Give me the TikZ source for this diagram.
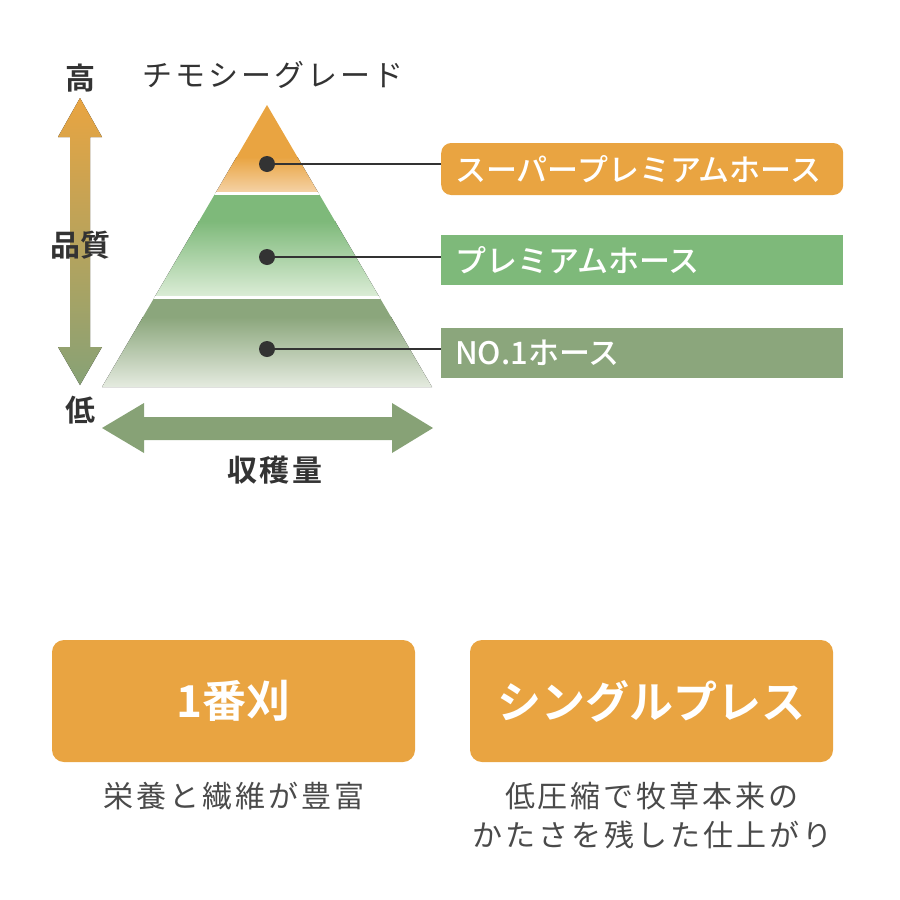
\documentclass[tikz,border=0pt]{standalone}
\usepackage{fontspec}
\setmainfont{Noto Sans CJK JP}[BoldFont={Noto Sans CJK JP Medium}]
\newfontfamily\heavyfont{Noto Sans CJK JP Bold}
\usetikzlibrary{positioning}

\definecolor{hayorange}{HTML}{E9A441}
\definecolor{haypeach}{HTML}{F5D3A8}
\definecolor{grassgreen}{HTML}{7EB97A}
\definecolor{grasspale}{HTML}{DCEDD7}
\definecolor{olivegreen}{HTML}{8BA67C}
\definecolor{olivepale}{HTML}{E6ECE1}
\definecolor{arrowgreen}{HTML}{87A276}
\definecolor{inkdark}{HTML}{333333}
\definecolor{inkgray}{HTML}{4A4A4A}

\tikzset{
  axislabel/.style={text=inkdark, inner sep=0pt, font=\fontsize{30}{34}\selectfont\heavyfont},
  dot/.style={circle, fill=inkdark, minimum size=16pt, inner sep=0pt},
  tag/.style={anchor=west, minimum width=402pt, text width=374pt, inner xsep=14pt,
    minimum height=50pt, align=left, text=white, font=\fontsize{31}{34}\selectfont\bfseries},
  feature/.style={fill=hayorange, rounded corners=12pt, minimum width=363pt, minimum height=122pt,
    text=white, font=\fontsize{44}{48}\selectfont\heavyfont},
  note/.style={text=inkgray, inner sep=0pt, align=center,
    font=\fontsize{30}{39}\selectfont\addfontfeatures{LetterSpace=10}},
}

\begin{document}
\begin{tikzpicture}[x=1pt, y=-1pt]
\useasboundingbox (0,0) rectangle (900,900);
% quality arrow
\fill[top color=hayorange, bottom color=arrowgreen]
  (80,98) -- (102,137) -- (90,137) -- (90,347) -- (102,347) -- (80,385)
  -- (58,347) -- (70,347) -- (70,137) -- (58,137) -- cycle;
% yield arrow
\fill[arrowgreen]
  (102,428) -- (144,403) -- (144,417) -- (392,417) -- (392,403) -- (433,428)
  -- (392,453) -- (392,440) -- (144,440) -- (144,453) -- cycle;
% pyramid
\begin{scope}
\clip (267,105) -- (432,387) -- (102,387) -- cycle;
\fill[hayorange] (100,105) rectangle (435,158);
\fill[top color=hayorange, bottom color=haypeach] (100,157) rectangle (435,193);
\fill[grassgreen] (100,193) rectangle (435,222);
\fill[top color=grassgreen, bottom color=grasspale] (100,221) rectangle (435,297);
\fill[olivegreen] (100,297) rectangle (435,318);
\fill[top color=olivegreen, bottom color=olivepale] (100,317) rectangle (435,388);
\draw[white, line width=3pt] (95,193.5) -- (440,193.5);
\draw[white, line width=3pt] (95,297.5) -- (440,297.5);
\end{scope}
% axis labels
\node (high) at (80,78) [axislabel] {高};
\node (quality) at (80,245) [axislabel] {品質};
\node (low) at (80,410) [axislabel] {低};
\node (yield) at (275,470) [axislabel, font=\fontsize{30}{34}\selectfont\heavyfont\addfontfeatures{LetterSpace=8}] {収穫量};
\node (grade) at (273,75) [note, text=inkdark] {チモシーグレード};
% grades
\node (dotsuper) at (267,164) [dot] {};
\node (dotpremium) at (267,257) [dot] {};
\node (dotone) at (267,349) [dot] {};
\node (super) at (441,169) [tag, fill=hayorange, rounded corners=10pt, minimum height=52pt] {スーパープレミアムホース};
\node (premium) at (441,260) [tag, fill=grassgreen] {プレミアムホース};
\node (one) at (441,353) [tag, fill=olivegreen] {NO.1ホース};
\draw[inkdark, line width=2.5pt] (dotsuper) -- (dotsuper -| super.west);
\draw[inkdark, line width=2.5pt] (dotpremium) -- (dotpremium -| premium.west);
\draw[inkdark, line width=2.5pt] (dotone) -- (dotone -| one.west);
% features
\node (first) at (233.5,701) [feature] {1番刈};
\node (single) at (651.5,701) [feature] {シングルプレス};
\node (firstnote) at (233.5,796) [note] {栄養と繊維が豊富};
\node (singlenote) at (652,816) [note] {低圧縮で牧草本来の\\かたさを残した仕上がり};
\end{tikzpicture}
\end{document}
